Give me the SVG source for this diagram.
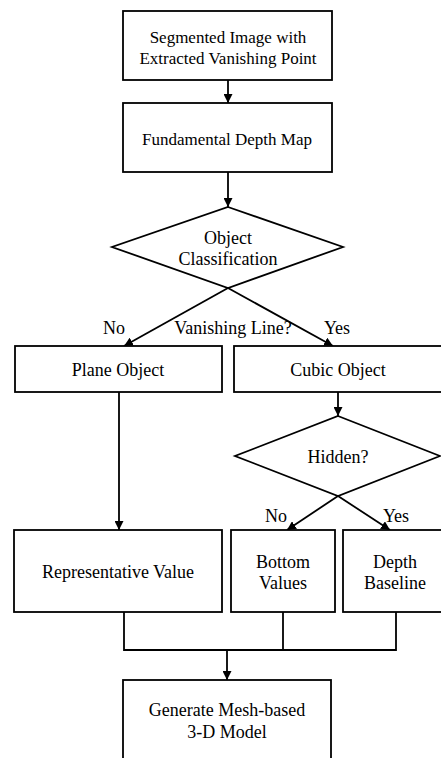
<svg xmlns="http://www.w3.org/2000/svg" width="441" height="758" viewBox="0 0 441 758">
<style>
.n{fill:#fff;stroke:#000;stroke-width:1.8}
.c{fill:none;stroke:#000;stroke-width:1.8}
text{font-family:"Liberation Serif","Times New Roman",serif;font-size:18px;fill:#000;text-anchor:middle}
.s{font-size:17px}
</style>
<defs>
<marker id="a" viewBox="0 0 10 10" refX="10" refY="5" markerWidth="5" markerHeight="5" orient="auto" markerUnits="strokeWidth">
<path d="M0,0L10,5L0,10z" fill="#000"/>
</marker>
</defs>
<rect width="441" height="758" fill="#fff"/>
<g id="connectors">
<line class="c" x1="228" y1="80" x2="228" y2="103" marker-end="url(#a)"/>
<line class="c" x1="228" y1="172" x2="228" y2="207" marker-end="url(#a)"/>
<line class="c" x1="228" y1="288" x2="124" y2="346" marker-end="url(#a)"/>
<line class="c" x1="228" y1="288" x2="333" y2="346" marker-end="url(#a)"/>
<line class="c" x1="119" y1="392" x2="119" y2="530" marker-end="url(#a)"/>
<line class="c" x1="338" y1="392" x2="338" y2="416" marker-end="url(#a)"/>
<line class="c" x1="338" y1="496" x2="287" y2="530" marker-end="url(#a)"/>
<line class="c" x1="338" y1="496" x2="390" y2="530" marker-end="url(#a)"/>
<polyline class="c" points="124,612 124,650 396,650 396,612"/>
<line class="c" x1="283" y1="612" x2="283" y2="650"/>
<line class="c" x1="227" y1="650" x2="227" y2="680" marker-end="url(#a)"/>
<text x="114" y="334">No</text>
<text x="233" y="334">Vanishing Line?</text>
<text x="337" y="334">Yes</text>
<text x="276" y="522">No</text>
<text x="396" y="522">Yes</text>
</g>
<g id="n1">
<rect class="n" x="123" y="11" width="209" height="69"/>
<text class="s" x="228" y="43">Segmented Image with</text>
<text class="s" x="228" y="64">Extracted Vanishing Point</text>
</g>
<g id="n2">
<rect class="n" x="123" y="103" width="209" height="69"/>
<text class="s" x="227" y="145">Fundamental Depth Map</text>
</g>
<g id="n3">
<polygon class="n" points="228,207 343,247 228,288 112,247"/>
<text x="228" y="244">Object</text>
<text x="228" y="265">Classification</text>
</g>
<g id="n4">
<rect class="n" x="15" y="346" width="207" height="46"/>
<text x="118" y="376">Plane Object</text>
</g>
<g id="n5">
<rect class="n" x="234" y="346" width="212" height="46"/>
<text x="338" y="376">Cubic Object</text>
</g>
<g id="n6">
<polygon class="n" points="338,416 440,456 338,496 235,456"/>
<text x="338" y="463">Hidden?</text>
</g>
<g id="n7">
<rect class="n" x="14" y="530" width="208" height="82"/>
<text x="118" y="578">Representative Value</text>
</g>
<g id="n8">
<rect class="n" x="231" y="530" width="104" height="82"/>
<text x="283" y="568">Bottom</text>
<text x="283" y="589">Values</text>
</g>
<g id="n9">
<rect class="n" x="343" y="530" width="103" height="82"/>
<text x="395" y="568">Depth</text>
<text x="395" y="589">Baseline</text>
</g>
<g id="n10">
<rect class="n" x="123" y="680" width="208" height="85"/>
<text x="227" y="716">Generate Mesh-based</text>
<text x="227" y="738">3-D Model</text>
</g>
</svg>
